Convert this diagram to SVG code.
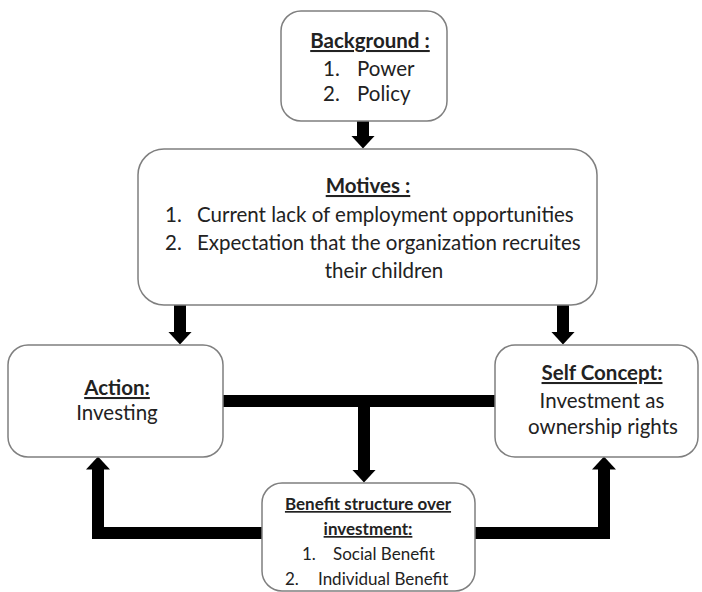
<svg xmlns="http://www.w3.org/2000/svg" width="702" height="592" viewBox="0 0 702 592">
<style>
.box{fill:#ffffff;stroke:#7f7f7f;stroke-width:1.5}
.t{font-family:Lato,"Open Sans","Liberation Sans",sans-serif;fill:#222222;font-size:20.5px}
.h{font-weight:bold;text-decoration:underline}
.s{font-size:17px}
.c{stroke:#000;stroke-width:12;fill:none;stroke-linejoin:miter}
</style>
<defs>
<marker id="ah" markerUnits="userSpaceOnUse" viewBox="0 0 13 24" refX="0.5" refY="12" markerWidth="13" markerHeight="24" orient="auto">
<path d="M0,0 L13,12 L0,24 Z" fill="#000"/>
</marker>
</defs>
<rect width="702" height="592" fill="#ffffff"/>
<g id="connectors">
<line class="c" x1="363" y1="114" x2="363" y2="136" marker-end="url(#ah)"/>
<line class="c" x1="180" y1="296" x2="180" y2="332" marker-end="url(#ah)"/>
<line class="c" x1="563" y1="296" x2="563" y2="332" marker-end="url(#ah)"/>
<line class="c" x1="223" y1="401" x2="496" y2="401"/>
<line class="c" x1="364" y1="401" x2="364" y2="470" marker-end="url(#ah)"/>
<polyline class="c" points="262,533 98,533 98,469" marker-end="url(#ah)"/>
<polyline class="c" points="475,533 604,533 604,469" marker-end="url(#ah)"/>
</g>
<g id="background">
<rect class="box" x="281" y="11" width="166" height="110" rx="20"/>
<text class="t h" x="370" y="48" text-anchor="middle">Background :</text>
<text class="t" x="323" y="76">1.</text><text class="t" x="357" y="76">Power</text>
<text class="t" x="323" y="101">2.</text><text class="t" x="357" y="101">Policy</text>
</g>
<g id="motives">
<rect class="box" x="138" y="149" width="459" height="156" rx="26"/>
<text class="t h" x="368" y="193" text-anchor="middle">Motives :</text>
<text class="t" x="165" y="222">1.</text><text class="t" x="197" y="222">Current lack of employment opportunities</text>
<text class="t" x="165" y="250">2.</text><text class="t" x="197" y="250">Expectation that the organization recruites</text>
<text class="t" x="384" y="278" text-anchor="middle">their children</text>
</g>
<g id="action">
<rect class="box" x="8" y="345" width="215" height="112" rx="20"/>
<text class="t h" x="117" y="395" text-anchor="middle">Action:</text>
<text class="t" x="117" y="420" text-anchor="middle">Investing</text>
</g>
<g id="self-concept">
<rect class="box" x="495" y="345" width="203" height="112" rx="20"/>
<text class="t h" x="602" y="380" text-anchor="middle">Self Concept:</text>
<text class="t" x="602" y="408" text-anchor="middle">Investment as</text>
<text class="t" x="603" y="434" text-anchor="middle">ownership rights</text>
</g>
<g id="benefit">
<rect class="box" x="262" y="483" width="213" height="108" rx="20"/>
<text class="t s h" x="368" y="510" text-anchor="middle">Benefit structure over</text>
<text class="t s h" x="368" y="535" text-anchor="middle">investment:</text>
<text class="t s" x="302" y="560">1.</text><text class="t s" x="333" y="560">Social Benefit</text>
<text class="t s" x="285" y="585">2.</text><text class="t s" x="318" y="585">Individual Benefit</text>
</g>
</svg>
